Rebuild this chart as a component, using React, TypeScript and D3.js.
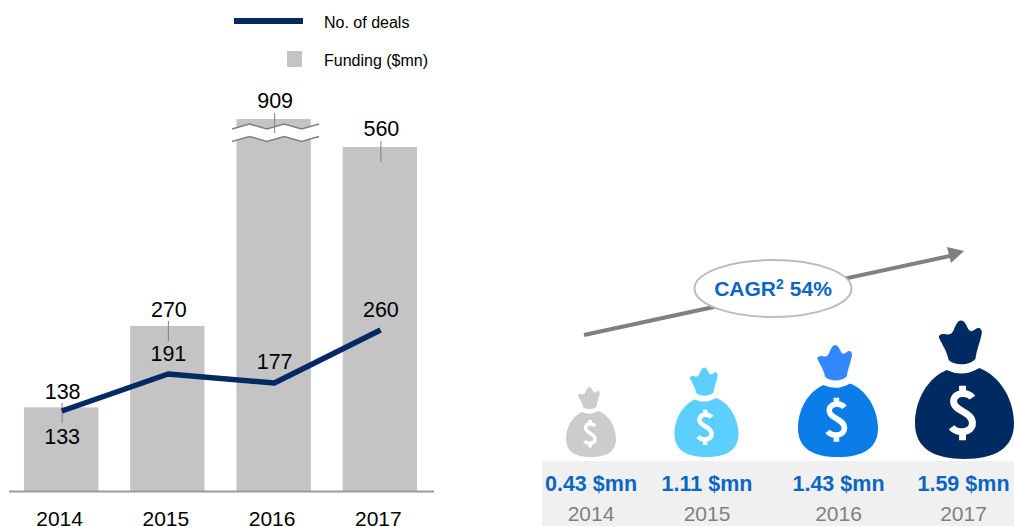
import React, { useEffect, useRef } from 'react';
import * as d3 from 'd3';

const years = ['2014', '2015', '2016', '2017'];
const funding = [138, 270, 909, 560];
const deals = [133, 191, 177, 260];
const perDeal = ['0.43 $mn', '1.11 $mn', '1.43 $mn', '1.59 $mn'];

const bagCentre = [591, 706.5, 838, 964.5];
const bagWidth = [50, 64, 80, 99];
const bagBottom = [457, 457, 457, 459];
const bagColor = ['#cccccc', '#5ccfff', '#0b7de8', '#002b62'];
const crownColor = ['#cccccc', '#5ccfff', '#3388ff', '#002b62'];
const valueCentre = [591, 707, 838.5, 963.5];

const fundingLabelGap = [8, 9, 11, 11];
const dealLabelY = [444, 361, 369, 317];
const leaderFunding = [[403, 423], [321, 341], [113, 133], [141, 162]];

const NAVY = '#002b62';
const GREY = '#c4c4c4';
const BLUE = '#0a66c2';
const FONT = '"Liberation Sans", Arial, sans-serif';

const BODY = 'M32 50 Q48 58 65 48 C86 56 100 80 100 104 C100 130 80 140 50 140 C20 140 0 130 0 104 C0 80 13 58 32 50Z';
const CROWN = 'M24 17 C24 14 28 13 31 14 C35 15 37 14 39 10 C41 5 43 0 46.5 0 C50 0 52 5 54 9 C56 12 58 11 61 9 C64 6 68 8 67.5 13 C66 22 62 30 61 39 C55 46 40 46 34 40 C32 30 27 24 24 17Z';
const DOLLAR = 'M58 78 C54 72 39 72 39 82 C39 92 58 92 58 104 C58 114 42 115 37 108 M48 66 V74 M48 112 V121';

export default function App() {
  const ref = useRef<SVGSVGElement>(null);

  useEffect(() => {
    const svg = d3.select(ref.current);
    svg.selectAll('*').remove();
    svg.attr('font-family', FONT);

    const x = d3.scaleBand<string>().domain(years).range([8, 433]).paddingInner(0.3).paddingOuter(0.15);
    // bar axis is broken above 560, so 909 only gets a little more height
    const yBar = d3.scaleLinear().domain([0, 560, 909]).range([492.5, 147, 119]);
    const yLine = d3.scaleLinear().domain([133, 260]).range([411, 330]);
    const cx = (d: string) => (x(d) as number) + x.bandwidth() / 2;

    // legend
    svg.append('line').attr('x1', 234).attr('x2', 303).attr('y1', 21).attr('y2', 21)
      .attr('stroke', NAVY).attr('stroke-width', 6);
    svg.append('rect').attr('x', 287).attr('y', 51).attr('width', 15).attr('height', 16).attr('fill', GREY);
    svg.append('text').attr('x', 324).attr('y', 28).attr('font-size', 16).text('No. of deals');
    svg.append('text').attr('x', 324).attr('y', 66).attr('font-size', 16).text('Funding ($mn)');

    // bars
    svg.selectAll('.bar').data(years).enter().append('rect')
      .attr('class', 'bar')
      .attr('x', (d) => x(d) as number)
      .attr('y', (_, i) => yBar(funding[i]))
      .attr('width', x.bandwidth())
      .attr('height', (_, i) => 492 - yBar(funding[i]))
      .attr('fill', GREY);

    // axis break on the 2016 bar
    const breakX = d3.scaleLinear().domain([0, 5]).range([232, 319]);
    const zig = [129, 124, 129, 124, 129, 124];
    const upper = zig.map((v, i) => [breakX(i), v] as [number, number]);
    const lower = zig.map((v, i) => [breakX(i), v + 12.5] as [number, number]);
    svg.append('path')
      .attr('d', d3.line()([...upper, ...lower.slice().reverse()]) + 'Z')
      .attr('fill', 'white');
    [upper, lower].forEach((pts) => {
      svg.append('path').attr('d', d3.line()(pts)).attr('fill', 'none')
        .attr('stroke', '#808080').attr('stroke-width', 1.5);
    });

    // leader lines
    svg.selectAll('.leader').data(years).enter().append('line')
      .attr('class', 'leader')
      .attr('x1', (d) => cx(d) + 1)
      .attr('x2', (d) => cx(d) + 1)
      .attr('y1', (_, i) => leaderFunding[i][0])
      .attr('y2', (_, i) => leaderFunding[i][1])
      .attr('stroke', '#808080').attr('stroke-width', 1);

    // axis
    const axis = svg.append('g').attr('transform', 'translate(0,491.5)')
      .call(d3.axisBottom(x).tickSize(0).tickPadding(20));
    axis.select('.domain').attr('stroke', '#999999').attr('stroke-width', 2).attr('d', 'M9,0H434');
    axis.selectAll('text').attr('font-size', 21).attr('font-family', FONT)
      .attr('fill', '#000').attr('dx', -1.5);

    // deals line
    const line = d3.line<string>().x((d) => cx(d) + 0.7).y((_, i) => yLine(deals[i]));
    svg.append('path').attr('d', line(years)).attr('fill', 'none')
      .attr('stroke', NAVY).attr('stroke-width', 5.5).attr('stroke-linejoin', 'round');

    // data labels
    svg.selectAll('.fund').data(years).enter().append('text')
      .attr('class', 'fund')
      .attr('x', (d) => cx(d) + 1.5)
      .attr('y', (_, i) => yBar(funding[i]) - fundingLabelGap[i])
      .attr('text-anchor', 'middle').attr('font-size', 21.5)
      .text((_, i) => funding[i]);
    svg.selectAll('.deal').data(years).enter().append('text')
      .attr('class', 'deal')
      .attr('x', (d) => cx(d) + 1)
      .attr('y', (_, i) => dealLabelY[i])
      .attr('text-anchor', 'middle').attr('font-size', 21.5)
      .text((_, i) => deals[i]);

    // right panel
    svg.append('rect').attr('x', 542).attr('y', 461).attr('width', 472).attr('height', 65).attr('fill', '#f0f0f0');

    svg.append('line').attr('x1', 584).attr('y1', 335).attr('x2', 952).attr('y2', 255.5)
      .attr('stroke', '#808080').attr('stroke-width', 4);
    svg.append('path').attr('d', 'M964 251 L947 247 L951 263Z').attr('fill', '#808080');
    svg.append('ellipse').attr('cx', 773).attr('cy', 288.5).attr('rx', 78.5).attr('ry', 28.5)
      .attr('fill', 'white').attr('stroke', '#bdbdbd').attr('stroke-width', 2);
    const cagr = svg.append('text').attr('x', 773).attr('y', 296).attr('text-anchor', 'middle')
      .attr('font-size', 21).attr('font-weight', 'bold').attr('fill', BLUE);
    cagr.append('tspan').text('CAGR');
    cagr.append('tspan').attr('font-size', 14).attr('dy', -7).text('2');
    cagr.append('tspan').attr('dy', 7).attr('dx', 6).text('54%');

    years.forEach((year, i) => {
      const k = bagWidth[i] / 100;
      const bag = svg.append('g')
        .attr('transform', `translate(${bagCentre[i] - bagWidth[i] / 2},${bagBottom[i] - 140 * k}) scale(${k})`);
      bag.append('path').attr('d', BODY).attr('fill', bagColor[i]);
      bag.append('path').attr('d', CROWN).attr('fill', crownColor[i]);
      bag.append('path').attr('d', DOLLAR).attr('fill', 'none').attr('stroke', 'white').attr('stroke-width', 7);

      svg.append('text').attr('x', valueCentre[i]).attr('y', 491).attr('text-anchor', 'middle')
        .attr('font-size', 21.5).attr('font-weight', 'bold').attr('fill', BLUE).text(perDeal[i]);
      svg.append('text').attr('x', valueCentre[i]).attr('y', 521).attr('text-anchor', 'middle')
        .attr('font-size', 21).attr('fill', '#808080').text(year);
    });
  }, []);

  return <svg ref={ref} width={1014} height={526} style={{ position: 'absolute', left: 0, top: 0 }} />;
}
